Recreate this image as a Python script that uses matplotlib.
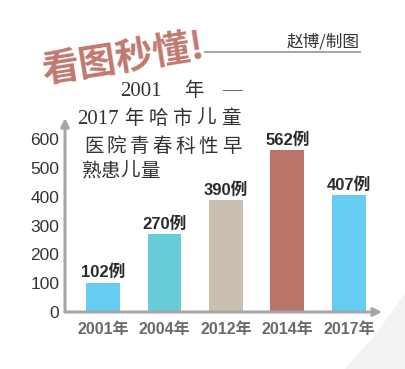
import matplotlib
matplotlib.use("Agg")
import matplotlib.pyplot as plt
from matplotlib.patches import Polygon

years = ["2001年", "2004年", "2012年", "2014年", "2017年"]
values = [102, 270, 390, 562, 407]
value_labels = ["102例", "270例", "390例", "562例", "407例"]
bar_colors = ["#66CCF2", "#66CDD8", "#C9BFB1", "#BA756A", "#66CCF2"]
yticks = [0, 100, 200, 300, 400, 500, 600]

W, H = 406, 369
fig = plt.figure(figsize=(W / 100, H / 100), dpi=100)
fig.patch.set_facecolor("white")

def fx(px):
    return px / W

def fy(py):
    return 1 - py / H

# faint corner shading
corner = Polygon([[fx(345), fy(369)], [fx(375), fy(335)], [fx(406), fy(292)],
                  [fx(406), fy(369)]],
                 closed=True, transform=fig.transFigure, facecolor="#F2F2F2",
                 edgecolor="none", zorder=-5)
fig.patches.append(corner)

ax = fig.add_axes([fx(65), fy(312), fx(382) - fx(65), fy(118) - fy(312)])
ax.set_zorder(2)
ax.set_facecolor("none")
x = list(range(len(values)))
ax.bar(x, values, width=0.55, color=bar_colors, zorder=2)
ax.set_xlim(-0.62, 4.54)
ax.set_ylim(0, 674)
for s in ax.spines.values():
    s.set_visible(False)

axis_col = "#A6A6A6"
ax.annotate("", xy=(0, 1), xytext=(0, 0), xycoords="axes fraction",
            arrowprops=dict(arrowstyle="-|>", color=axis_col, lw=2.2,
                            mutation_scale=12, shrinkA=0, shrinkB=0))
ax.annotate("", xy=(1, 0), xytext=(0, 0), xycoords="axes fraction",
            arrowprops=dict(arrowstyle="-|>", color=axis_col, lw=2.2,
                            mutation_scale=12, shrinkA=0, shrinkB=0))

ax.set_yticks(yticks)
ax.set_yticklabels([str(v) for v in yticks], fontsize=12.5,
                   family=["Liberation Sans"], color="#333333")
ax.tick_params(axis="y", length=0, pad=4)
ax.set_xticks(x)
ax.set_xticklabels(years, fontsize=11.5, fontweight="bold", color="#6A6A6A",
                   family=["Liberation Sans", "Noto Sans CJK SC"])
ax.tick_params(axis="x", length=0, pad=7)

for xi, v, lab in zip(x, values, value_labels):
    ax.text(xi, v + 8, lab, ha="center", va="bottom", fontsize=12,
            fontweight="bold", color="#2A2A2A",
            family=["Liberation Sans", "Noto Sans CJK SC"])

# title stamp
fig.text(fx(123), fy(59), "看图秒懂!", rotation=9, ha="center", va="center",
         fontsize=27, fontweight="black", color="#C0796E",
         family=["Noto Sans CJK SC"])
fig.text(fx(360), fy(42), "赵博/制图", ha="right", va="center", fontsize=12,
         color="#333333", family=["Noto Sans CJK SC"])
fig.add_artist(plt.Line2D([fx(205), fx(360)], [fy(52), fy(52)],
                          color="#A8A8A8", lw=1.5, transform=fig.transFigure))

# subtitle block
sub_font = dict(fontsize=14, color="#333333", va="center", ha="center",
                family=["Liberation Serif", "Noto Sans CJK SC"], fontweight="light")
fig.text(fx(141), fy(91), "2001", **dict(sub_font, fontsize=15))
fig.text(fx(194), fy(91), "年", **sub_font)
fig.text(fx(232), fy(91), "—", **sub_font)
fig.text(fx(98), fy(119), "2017", **dict(sub_font, fontsize=15))
for i, ch in enumerate("年哈市儿童"):
    fig.text(fx(134 + 24.2 * i), fy(119), ch, **sub_font)
for i, ch in enumerate("医院青春科性早"):
    fig.text(fx(93.5 + 23 * i), fy(147), ch, **sub_font)
for i, ch in enumerate("熟患儿量"):
    fig.text(fx(91.5 + 19.5 * i), fy(172), ch, **sub_font)

fig.savefig("out.png", dpi=100, facecolor="white")
